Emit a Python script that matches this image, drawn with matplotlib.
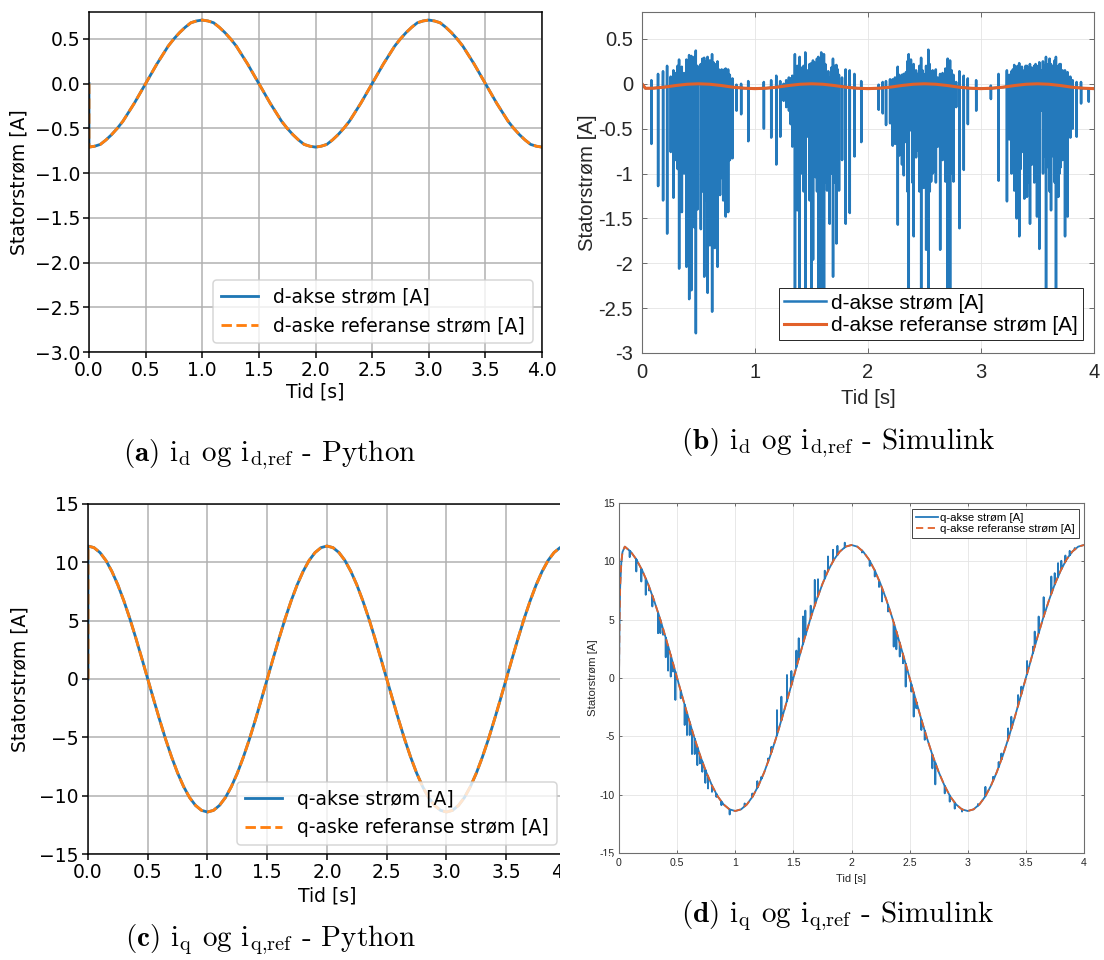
import numpy as np
import matplotlib
matplotlib.use("Agg")
import matplotlib.pyplot as plt
from matplotlib.patches import Rectangle

plt.rcParams["mathtext.fontset"] = "cm"
plt.rcParams["font.family"] = ["DejaVu Sans"]

# ------------------------------------------------------------------
# Python model (panels a and c), sampled every 0.05 s (first point: t=0 start-up value)
# ------------------------------------------------------------------
t_py = [0.0] + [round(0.05 * k, 2) for k in range(81)]

i_d_py = [0.00,
          -0.71, -0.70, -0.68, -0.63, -0.57, -0.50, -0.42, -0.32, -0.22, -0.11, 0.00,
          0.11, 0.22, 0.32, 0.42, 0.50, 0.57, 0.63, 0.68, 0.70, 0.71,
          0.70, 0.68, 0.63, 0.57, 0.50, 0.42, 0.32, 0.22, 0.11, 0.00,
          -0.11, -0.22, -0.32, -0.42, -0.50, -0.57, -0.63, -0.68, -0.70, -0.71,
          -0.70, -0.68, -0.63, -0.57, -0.50, -0.42, -0.32, -0.22, -0.11, 0.00,
          0.11, 0.22, 0.32, 0.42, 0.50, 0.57, 0.63, 0.68, 0.70, 0.71,
          0.70, 0.68, 0.63, 0.57, 0.50, 0.42, 0.32, 0.22, 0.11, 0.00,
          -0.11, -0.22, -0.32, -0.42, -0.50, -0.57, -0.63, -0.68, -0.70, -0.71]
i_d_ref_py = list(i_d_py)   # the controller tracks its reference exactly

i_q_py = [0.00,
          11.40, 11.26, 10.84, 10.16, 9.22, 8.06, 6.70, 5.18, 3.52, 1.78, 0.00,
          -1.78, -3.52, -5.18, -6.70, -8.06, -9.22, -10.16, -10.84, -11.26, -11.40,
          -11.26, -10.84, -10.16, -9.22, -8.06, -6.70, -5.18, -3.52, -1.78, 0.00,
          1.78, 3.52, 5.18, 6.70, 8.06, 9.22, 10.16, 10.84, 11.26, 11.40,
          11.26, 10.84, 10.16, 9.22, 8.06, 6.70, 5.18, 3.52, 1.78, 0.00,
          -1.78, -3.52, -5.18, -6.70, -8.06, -9.22, -10.16, -10.84, -11.26, -11.40,
          -11.26, -10.84, -10.16, -9.22, -8.06, -6.70, -5.18, -3.52, -1.78, 0.00,
          1.78, 3.52, 5.18, 6.70, 8.06, 9.22, 10.16, 10.84, 11.26, 11.40]
i_q_ref_py = list(i_q_py)

# ------------------------------------------------------------------
# Simulink model (panels b and d)
# ------------------------------------------------------------------
t_d_ref_sim = [0.0, 0.03] + [round(0.1 * k, 1) for k in range(1, 41)]
i_d_ref_sim = [0.000, -0.050,
               -0.049, -0.037, -0.019, -0.005, 0.000, -0.005, -0.019, -0.037, -0.049, -0.054,
               -0.049, -0.037, -0.019, -0.005, 0.000, -0.005, -0.019, -0.037, -0.049, -0.054,
               -0.049, -0.037, -0.019, -0.005, 0.000, -0.005, -0.019, -0.037, -0.049, -0.054,
               -0.049, -0.037, -0.019, -0.005, 0.000, -0.005, -0.019, -0.037, -0.049, -0.054]

# switching spikes in the measured d-current: time, lowest and highest excursion
d_spike_t = [0.083, 0.142, 0.186, 0.222, 0.254, 0.278, 0.300, 0.315, 0.328, 0.340,
             0.352, 0.372, 0.393, 0.405, 0.417, 0.437, 0.450, 0.463, 0.476, 0.490,
             0.520, 0.535, 0.550, 0.565, 0.580, 0.600, 0.620, 0.632, 0.644, 0.656,
             0.668, 0.680, 0.690, 0.705, 0.718, 0.730, 0.740, 0.752, 0.762, 0.777,
             0.800, 0.836, 0.877, 0.940,
             1.078, 1.143, 1.188, 1.223, 1.253, 1.276, 1.300, 1.315, 1.330, 1.353,
             1.374, 1.395, 1.408, 1.418, 1.430, 1.445, 1.468, 1.483, 1.498, 1.513,
             1.525, 1.536, 1.548, 1.560, 1.573, 1.586, 1.598, 1.610, 1.622, 1.637,
             1.648, 1.660, 1.675, 1.690, 1.705, 1.720, 1.732, 1.743, 1.770, 1.802,
             1.838, 1.880, 1.940,
             2.094, 2.130, 2.159, 2.195, 2.218, 2.239, 2.263, 2.275, 2.286, 2.300,
             2.316, 2.336, 2.348, 2.360, 2.380, 2.392, 2.404, 2.425, 2.440, 2.455,
             2.470, 2.482, 2.493, 2.514, 2.534, 2.546, 2.558, 2.572, 2.587, 2.600,
             2.617, 2.638, 2.660, 2.685, 2.705, 2.726, 2.740, 2.756, 2.780, 2.809,
             2.847, 2.883, 2.957,
             3.087, 3.155, 3.229, 3.250, 3.270, 3.282, 3.294, 3.305, 3.315, 3.327,
             3.338, 3.350, 3.362, 3.383, 3.395, 3.406, 3.420, 3.433, 3.450, 3.471,
             3.483, 3.495, 3.516, 3.536, 3.548, 3.560, 3.575, 3.595, 3.607, 3.619,
             3.640, 3.652, 3.663, 3.684, 3.695, 3.705, 3.722, 3.743, 3.766, 3.790,
             3.811, 3.846, 3.885, 3.953]
d_spike_low = [-0.67, -1.14, -1.30, -1.67, -0.76, -1.27, -0.85, -0.95, -2.06, -0.95,
               -1.43, -1.00, -2.04, -1.10, -2.40, -2.30, -1.30, -1.60, -2.78, -1.40,
               -1.62, -1.20, -2.15, -1.30, -2.33, -1.80, -2.54, -1.40, -1.83, -1.20,
               -2.04, -1.10, -1.24, -1.05, -1.30, -0.95, -1.48, -0.90, -1.43, -0.85,
               -0.83, -0.30, -0.34, -0.64,
               -0.50, -0.60, -0.90, -0.59, -0.19, -0.26, -0.30, -0.45, -0.70, -2.60,
               -1.41, -2.50, -1.00, -0.41, -1.20, -2.70, -0.59, -1.30, -2.55, -1.96,
               -1.00, -1.04, -1.20, -2.45, -1.50, -2.60, -1.30, -2.40, -1.10, -1.19,
               -0.95, -1.56, -1.00, -2.15, -1.10, -1.78, -0.95, -1.19, -0.85, -1.56,
               -1.44, -0.81, -0.65,
               -0.29, -0.33, -0.46, -0.44, -0.69, -0.67, -1.57, -0.80, -0.67, -0.90,
               -1.02, -0.65, -1.20, -2.50, -0.52, -1.10, -1.70, -0.82, -0.74, -1.20,
               -2.40, -1.10, -1.16, -1.85, -2.50, -1.20, -1.09, -1.00, -0.98, -1.10,
               -0.70, -1.85, -0.85, -1.09, -2.40, -2.35, -1.00, -1.09, -0.26, -1.61,
               -0.96, -0.45, -0.30,
               -0.17, -1.08, -1.31, -0.62, -1.00, -0.90, -1.19, -0.95, -1.50, -1.00,
               -1.70, -0.95, -0.76, -1.28, -1.00, -1.26, -1.10, -1.56, -0.90, -1.10,
               -1.00, -1.48, -1.84, -0.30, -1.00, -0.81, -2.45, -0.93, -1.20, -1.41,
               -0.81, -1.10, -2.35, -1.26, -1.00, -0.93, -0.85, -1.70, -1.48, -0.60,
               -0.50, -0.59, -0.22, -0.20]
d_spike_high = [0.04, 0.11, 0.14, 0.20, 0.08, 0.15, 0.12, 0.20, 0.27, 0.18,
                0.19, 0.12, 0.27, 0.22, 0.32, 0.31, 0.25, 0.30, 0.37, 0.20,
                0.22, 0.28, 0.29, 0.25, 0.30, 0.26, 0.33, 0.24, 0.21, 0.22,
                0.25, 0.16, 0.14, 0.16, 0.14, 0.16, 0.17, 0.15, 0.16, 0.10,
                0.06, -0.01, 0.00, 0.03,
                0.02, 0.04, 0.09, 0.03, 0.00, 0.04, 0.07, 0.06, 0.09, 0.33,
                0.20, 0.30, 0.18, 0.13, 0.20, 0.35, 0.15, 0.22, 0.23, 0.26,
                0.24, 0.20, 0.28, 0.30, 0.28, 0.35, 0.30, 0.33, 0.22, 0.13,
                0.14, 0.07, 0.18, 0.28, 0.20, 0.21, 0.16, 0.10, 0.07, 0.16,
                0.15, 0.11, 0.03,
                -0.01, 0.02, 0.03, 0.05, 0.05, 0.07, 0.19, 0.10, 0.02, 0.10,
                0.11, 0.13, 0.25, 0.33, 0.27, 0.20, 0.22, 0.15, 0.11, 0.20,
                0.29, 0.15, 0.11, 0.20, 0.38, 0.22, 0.11, 0.15, 0.13, 0.16,
                0.07, 0.11, 0.12, 0.17, 0.28, 0.26, 0.15, 0.10, 0.02, 0.14,
                0.09, 0.06, 0.04,
                -0.02, 0.11, 0.15, 0.10, 0.14, 0.16, 0.21, 0.18, 0.19, 0.20,
                0.23, 0.18, 0.19, 0.15, 0.20, 0.20, 0.18, 0.22, 0.18, 0.20,
                0.22, 0.20, 0.24, 0.15, 0.25, 0.20, 0.30, 0.22, 0.28, 0.22,
                0.20, 0.26, 0.30, 0.20, 0.22, 0.22, 0.15, 0.15, 0.13, 0.08,
                0.04, 0.02, 0.02, -0.07]

# q reference: fast start-up, then the same sinusoid as the Python model
t_q_ref_sim = [0.0, 0.005, 0.01, 0.02, 0.03] + t_py[2:]
i_q_ref_sim = [0.0, 5.0, 7.8, 9.9, 10.8] + i_q_py[2:]

# switching spikes in the measured q-current: time and tip value
q_spike_t = [0.092, 0.149, 0.192, 0.230, 0.258, 0.287, 0.336, 0.356, 0.379, 0.402,
             0.422, 0.445, 0.465, 0.485, 0.531, 0.565, 0.585, 0.608, 0.628, 0.651,
             0.674, 0.697, 0.717, 0.743, 0.766, 0.800, 0.838, 0.881, 0.952,
             1.081, 1.147, 1.190, 1.225, 1.282, 1.311, 1.359, 1.397, 1.445, 1.483,
             1.526, 1.546, 1.583, 1.603, 1.649, 1.684, 1.712, 1.770, 1.798, 1.841,
             1.879, 1.942,
             2.090, 2.157, 2.200, 2.237, 2.263, 2.314, 2.363, 2.386, 2.415, 2.443,
             2.466, 2.515, 2.535, 2.558, 2.601, 2.630, 2.696, 2.721, 2.802, 2.845,
             2.888, 2.951,
             3.088, 3.152, 3.218, 3.266, 3.289, 3.347, 3.375, 3.433, 3.461, 3.510,
             3.561, 3.576, 3.610, 3.653, 3.719, 3.748, 3.777, 3.805, 3.840, 3.877,
             3.920]
q_spike_tip = [10.36, 9.13, 8.27, 7.13, 7.50, 6.13, 3.84, 3.84, 3.70, 1.78,
               0.63, 0.12, 0.55, -1.88, -1.74, -4.03, -4.89, -4.89, -6.52, -6.52,
               -7.47, -7.33, -8.04, -8.99, -9.47, -9.76, -10.20, -10.90, -11.70,
               -10.75, -9.90, -8.84, -8.47, -6.90, -5.90, -2.75, -1.60, 0.26, 0.60,
               2.35, 3.41, 5.27, 5.78, 6.20, 8.41, 8.47, 9.20, 10.42, 10.99,
               11.33, 11.60,
               10.76, 9.60, 8.70, 7.80, 6.56, 5.70, 2.69, 2.46, 1.84, 1.26,
               -0.74, -1.17, -3.31, -2.60, -4.46, -5.30, -7.75, -9.12, -9.89, -10.60,
               -11.20, -11.45,
               -10.80, -9.33, -8.47, -7.20, -6.47, -4.32, -3.32, -1.46, -0.74, 1.46,
               2.69, 3.98, 5.27, 6.93, 8.70, 8.99, 9.85, 10.05, 10.50, 10.90,
               11.14]

# ------------------------------------------------------------------
W, H = 1104, 960
fig = plt.figure(figsize=(W / 100, H / 100), dpi=100, facecolor="white")


def axes_px(left, top, right, bottom):
    ax = fig.add_axes([left / W, 1 - bottom / H, (right - left) / W, (bottom - top) / H])
    ax.px_box = (left, top, right, bottom)
    return ax


def place_labels(ax, ylab_x, xlab_y):
    l, t, r, b = ax.px_box
    ax.yaxis.set_label_coords((ylab_x - l) / (r - l), 0.5)
    ax.xaxis.set_label_coords(0.5, (b - xlab_y) / (b - t))


def spiky_trace(t_base, y_base, t_sp, levels, hw=0.0007):
    """Measured current = reference curve with narrow switching spikes."""
    t_base = np.asarray(t_base, float)
    y_base = np.asarray(y_base, float)
    ts, ys = list(t_base), list(y_base)
    for k, tk in enumerate(t_sp):
        b = float(np.interp(tk, t_base, y_base))
        lv = [lev[k] for lev in levels]
        ts += [tk - hw] + [tk + i * hw for i in range(len(lv))] + [tk + len(lv) * hw]
        ys += [b] + lv + [b]
    order = np.argsort(np.asarray(ts), kind="stable")
    return np.asarray(ts)[order], np.asarray(ys)[order]


# ---------------- matplotlib-style panels (a) and (c) ----------------
S = 1.35
PY_FS = 13.5


def python_panel(ax, t, y, yref, lab, lab_ref, ylim, yticks):
    ax.plot(t, y, color="#1f77b4", lw=1.5 * S, label=lab)
    ax.plot(t, yref, color="#ff7f0e", lw=1.5 * S, ls="--", label=lab_ref)
    ax.set_xlim(0, 4)
    ax.set_ylim(*ylim)
    ax.set_xticks([0.0, 0.5, 1.0, 1.5, 2.0, 2.5, 3.0, 3.5, 4.0])
    ax.set_yticks(yticks)
    ax.grid(True, color="#b0b0b0", lw=0.8 * S)
    for sp in ax.spines.values():
        sp.set_linewidth(0.8 * S)
    ax.tick_params(length=4.0, width=0.8 * S, labelsize=PY_FS, pad=2.5)
    ax.set_xlabel("Tid [s]", fontsize=PY_FS)
    ax.set_ylabel("Statorstrøm [A]", fontsize=PY_FS)
    leg = ax.legend(loc="lower right", fontsize=PY_FS)
    leg.get_frame().set_linewidth(0.8 * S)


ax_a = axes_px(89, 12, 542, 352)
python_panel(ax_a, t_py, i_d_py, i_d_ref_py, "d-akse strøm [A]", "d-aske referanse strøm [A]",
             (-3.0, 0.8), [0.5, 0.0, -0.5, -1.0, -1.5, -2.0, -2.5, -3.0])
place_labels(ax_a, 29, 382)

ax_c = axes_px(88, 504, 566, 854)
python_panel(ax_c, t_py, i_q_py, i_q_ref_py, "q-akse strøm [A]", "q-aske referanse strøm [A]",
             (-15, 15), [15, 10, 5, 0, -5, -10, -15])
place_labels(ax_c, 30, 886)

# ---------------- MATLAB-style panels (b) and (d) ----------------
MFONT = "Liberation Sans"
MTXT = "#262626"
M_BLUE = "#2479bb"
M_ORANGE = "#e2612a"


def matlab_axes(ax, fs, ticklen, pad_x, pad_y):
    for sp in ax.spines.values():
        sp.set_color("#6e6e6e")
        sp.set_linewidth(0.8)
    ax.tick_params(direction="in", top=True, right=True, length=ticklen, width=0.6,
                   color="#555555", labelcolor=MTXT, labelsize=fs, labelfontfamily=MFONT)
    ax.tick_params(axis="x", pad=pad_x)
    ax.tick_params(axis="y", pad=pad_y)
    ax.grid(True, color="#e4e4e4", lw=0.6)
    ax.set_axisbelow(True)


ax_b = axes_px(642, 12, 1094, 353)
tb, yb = spiky_trace(t_d_ref_sim, i_d_ref_sim, d_spike_t, [d_spike_high, d_spike_low])
ax_b.plot(tb, yb, color=M_BLUE, lw=1.8, label="d-akse strøm [A]")
ax_b.plot(t_d_ref_sim, i_d_ref_sim, color=M_ORANGE, lw=2.2, label="d-akse referanse strøm [A]")
ax_b.set_xlim(0, 4)
ax_b.set_ylim(-3, 0.8)
ax_b.set_xticks([0, 1, 2, 3, 4], labels=["0", "1", "2", "3", "4"])
ax_b.set_yticks([0.5, 0, -0.5, -1, -1.5, -2, -2.5, -3],
                labels=["0.5", "0", "-0.5", "-1", "-1.5", "-2", "-2.5", "-3"])
matlab_axes(ax_b, 14.5, 3.5, 7.5, 6.5)
ax_b.set_xlabel("Tid [s]", fontsize=14.6, family=MFONT, color=MTXT)
ax_b.set_ylabel("Statorstrøm [A]", fontsize=14.6, family=MFONT, color=MTXT)
place_labels(ax_b, 597, 389)
leg_b = ax_b.legend(loc="lower right", bbox_to_anchor=(1083 / W, 1 - 340 / H),
                    bbox_transform=fig.transFigure, borderaxespad=0,
                    prop={"family": MFONT, "size": 15}, fancybox=False, framealpha=1,
                    edgecolor="#262626", handlelength=2.0, handletextpad=0.25,
                    borderpad=0.25, labelspacing=0.15)
leg_b.get_frame().set_linewidth(0.7)

ax_d = axes_px(619, 503, 1084, 853)
td, yd = spiky_trace(t_q_ref_sim, i_q_ref_sim, q_spike_t, [q_spike_tip])
ax_d.plot(td, yd, color=M_BLUE, lw=1.3, label="q-akse strøm [A]")
ax_d.plot(t_q_ref_sim, i_q_ref_sim, color=M_ORANGE, lw=1.3, ls=(0, (4, 2.5)),
          label="q-akse referanse strøm [A]")
ax_d.set_xlim(0, 4)
ax_d.set_ylim(-15, 15)
ax_d.set_xticks([0, 0.5, 1, 1.5, 2, 2.5, 3, 3.5, 4],
                labels=["0", "0.5", "1", "1.5", "2", "2.5", "3", "3.5", "4"])
ax_d.set_yticks([-15, -10, -5, 0, 5, 10, 15],
                labels=["-15", "-10", "-5", "0", "5", "10", "15"])
matlab_axes(ax_d, 7.6, 2.5, 3.6, 3.0)
ax_d.set_xlabel("Tid [s]", fontsize=8, family=MFONT, color=MTXT)
ax_d.set_ylabel("Statorstrøm [A]", fontsize=8.2, family=MFONT, color=MTXT)
place_labels(ax_d, 598, 874)
leg_d = ax_d.legend(loc="upper right", bbox_to_anchor=(1079 / W, 1 - 509 / H),
                    bbox_transform=fig.transFigure, borderaxespad=0,
                    prop={"family": MFONT, "size": 8.2}, fancybox=False, framealpha=1,
                    edgecolor="#262626", handlelength=1.95, handletextpad=0.2,
                    borderpad=0.35, labelspacing=0.1)
leg_d.get_frame().set_linewidth(0.6)

# panel (c) and the x-label of (b) are cut at the edge of their images
white = dict(transform=fig.transFigure, facecolor="white", edgecolor="none", zorder=10)
fig.add_artist(Rectangle((560 / W, 0), 18 / W, 1 - 480 / H, **white))
fig.add_artist(Rectangle((560 / W, 1 - 900 / H), 52 / W, 44 / H, **white))
fig.add_artist(Rectangle((580 / W, 1 - 428 / H), (W - 580) / W, 19 / H, **white))

# ---------------- sub-figure captions ----------------
CAP = dict(family="cmr10", fontsize=21, ha="center", va="center", color="black")
fig.text(270 / W, 1 - 455 / H,
         r"$\mathbf{(a)}$ i$_\mathrm{d}$ og i$_\mathrm{d{,}ref}$ - Python", **CAP)
fig.text(838 / W, 1 - 443 / H,
         r"$\mathbf{(b)}$ i$_\mathrm{d}$ og i$_\mathrm{d{,}ref}$ - Simulink", **CAP)
fig.text(270 / W, 1 - 940 / H,
         r"$\mathbf{(c)}$ i$_\mathrm{q}$ og i$_\mathrm{q{,}ref}$ - Python", **CAP)
fig.text(838 / W, 1 - 916 / H,
         r"$\mathbf{(d)}$ i$_\mathrm{q}$ og i$_\mathrm{q{,}ref}$ - Simulink", **CAP)

fig.savefig("out.png", dpi=100, facecolor="white")
